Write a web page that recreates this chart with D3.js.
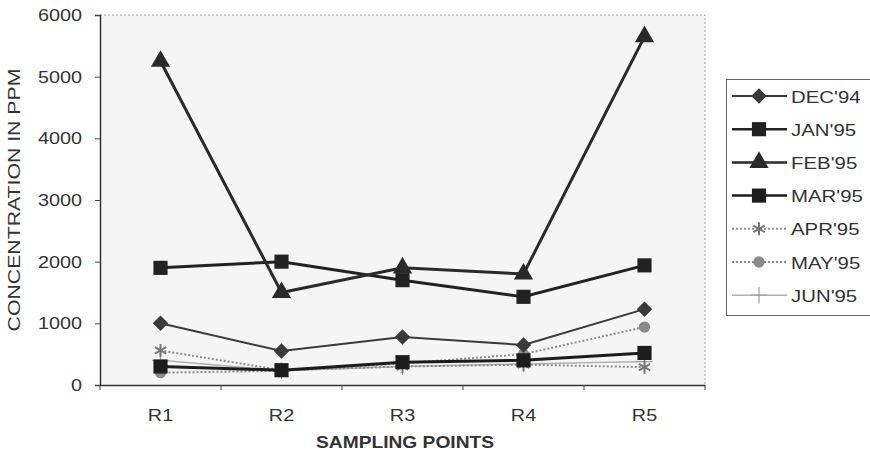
<!DOCTYPE html>
<html>
<head>
<meta charset="utf-8">
<script src="https://cdn.jsdelivr.net/npm/d3@7"></script>
<style>
  html, body { margin: 0; padding: 0; background: #ffffff; }
  svg { display: block; font-family: "Liberation Sans", Arial, sans-serif; }
</style>
</head>
<body>
<svg id="chart" width="870" height="459"></svg>
<script>
// ---- data ----
const categories = ["R1", "R2", "R3", "R4", "R5"];
const seriesNames = ["DEC'94", "JAN'95", "FEB'95", "MAR'95", "APR'95", "MAY'95", "JUN'95"];
const dec94 = [1000, 550, 780, 650, 1230];
const jan95 = [1900, 2000, 1700, 1430, 1940];
const feb95 = [5250, 1500, 1900, 1800, 5650];
const mar95 = [300, 240, 370, 400, 520];
const apr95 = [560, 240, 300, 330, 290];
const may95 = [200, 230, 350, 500, 940];
const jun95 = [400, 230, 300, 340, 380];
const yTicks = [0, 1000, 2000, 3000, 4000, 5000, 6000];
const yTitle = "CONCENTRATION IN PPM";
const xTitle = "SAMPLING POINTS";

const seriesValues = [dec94, jan95, feb95, mar95, apr95, may95, jun95];

// ---- styles ----
const styles = [
  { color: "#3a3a3a", width: 2,   dash: null,  marker: "diamond",  size: 120, mcolor: "#3a3a3a" },
  { color: "#222222", width: 3,   dash: null,  marker: "square",   size: 200, mcolor: "#222222" },
  { color: "#2a2a2a", width: 3,   dash: null,  marker: "triangle", size: 160, mcolor: "#2a2a2a" },
  { color: "#1c1c1c", width: 3,   dash: null,  marker: "square",   size: 200, mcolor: "#1c1c1c" },
  { color: "#8a8a8a", width: 2,   dash: "2,2", marker: "asterisk", size: 120, mcolor: "#777777" },
  { color: "#8c8c8c", width: 2,   dash: "2,2", marker: "circle",   size: 100, mcolor: "#8a8a8a" },
  { color: "#b0b0b0", width: 1.5, dash: null,  marker: "plus",     size: 90,  mcolor: "#a0a0a0" }
];

const svg = d3.select("#chart");
const margin = { left: 100, top: 15, right: 705, bottom: 385 };

const x = d3.scaleBand().domain(categories).range([margin.left, margin.right]);
const y = d3.scaleLinear().domain([0, 6000]).range([margin.bottom, margin.top]);
const cx = d => x(d) + x.bandwidth() / 2;

// plot area background
svg.append("rect")
  .attr("x", margin.left).attr("y", margin.top)
  .attr("width", margin.right - margin.left)
  .attr("height", margin.bottom - margin.top)
  .attr("fill", "#f5f5f5");

// top/right dotted border
svg.append("path")
  .attr("d", `M${margin.left},${margin.top}H${margin.right}V${margin.bottom}`)
  .attr("fill", "none").attr("stroke", "#999").attr("stroke-width", 1)
  .attr("stroke-dasharray", "2,2");

// helper for stretched text
function stext(g, tx, ty, str, opts) {
  const t = g.append("text")
    .attr("transform", `translate(${tx},${ty})${opts.rotate ? " rotate(" + opts.rotate + ")" : ""} scale(${opts.sx || 1.2},1)`)
    .attr("text-anchor", opts.anchor || "middle")
    .attr("font-size", opts.size || 16)
    .attr("font-weight", opts.weight || "normal")
    .attr("fill", opts.fill || "#333")
    .text(str);
  return t;
}

// y axis
const yAxis = svg.append("g").attr("transform", `translate(${margin.left},0)`)
  .call(d3.axisLeft(y).tickValues(yTicks).tickSize(5).tickFormat(""));
yAxis.select(".domain").attr("stroke", "#333").attr("stroke-width", 1.5);
yAxis.selectAll(".tick line").attr("stroke", "#444");
yTicks.forEach(v => {
  stext(svg, 82, y(v) + 6, String(v), { anchor: "end", size: 16.5 });
});

// x axis
const xBounds = categories.map(c => x(c)).concat([margin.right]);
const xAxis = svg.append("g").attr("transform", `translate(0,${margin.bottom})`)
  .call(d3.axisBottom(x).tickSize(0).tickFormat(""));
xAxis.select(".domain").attr("stroke", "#333").attr("stroke-width", 1.5);
xAxis.selectAll(".tick").remove();
xAxis.selectAll(".bt").data(xBounds).enter().append("line")
  .attr("x1", d => d).attr("x2", d => d).attr("y1", 0).attr("y2", 5)
  .attr("stroke", "#444");
categories.forEach(c => {
  stext(svg, cx(c), 421, c, { anchor: "middle", size: 16.5 });
});

// titles
stext(svg, 405, 448, xTitle, { anchor: "middle", size: 16, weight: "bold", fill: "#333" });
stext(svg, 20, 200, yTitle, { anchor: "middle", size: 17, rotate: -90, sx: 1.25, fill: "#333" });

// symbols
function symbolPath(kind, size) {
  const map = {
    diamond: d3.symbolSquare,
    square: d3.symbolSquare,
    triangle: d3.symbolTriangle,
    asterisk: d3.symbolAsterisk,
    circle: d3.symbolCircle,
    plus: d3.symbolPlus
  };
  return d3.symbol().type(map[kind]).size(size)();
}
function drawMarker(g, st, px, py) {
  const isStroke = st.marker === "asterisk" || st.marker === "plus";
  const p = g.append("path")
    .attr("d", symbolPath(st.marker, st.size))
    .attr("transform", `translate(${px},${py})${st.marker === "diamond" ? " rotate(45)" : ""}`);
  if (isStroke) {
    p.attr("fill", "none").attr("stroke", st.mcolor).attr("stroke-width", st.marker === "plus" ? 1.2 : 2);
  } else {
    p.attr("fill", st.mcolor).attr("stroke", "none");
  }
}

const line = d3.line().x((d, i) => cx(categories[i])).y(d => y(d));
const drawOrder = [6, 5, 4, 3, 0, 1, 2];
drawOrder.forEach(si => {
  const st = styles[si];
  const g = svg.append("g");
  g.append("path").datum(seriesValues[si])
    .attr("d", line).attr("fill", "none")
    .attr("stroke", st.color).attr("stroke-width", st.width)
    .attr("stroke-dasharray", st.dash);
  seriesValues[si].forEach((v, i) => drawMarker(g, st, cx(categories[i]), y(v)));
});

// legend
const lg = svg.append("g");
lg.append("rect").attr("x", 726.5).attr("y", 79.5).attr("width", 160).attr("height", 236)
  .attr("fill", "#ffffff").attr("stroke", "#666").attr("stroke-width", 1);
seriesNames.forEach((name, i) => {
  const st = styles[i];
  const ly = 96 + i * 33.2;
  lg.append("line").attr("x1", 732).attr("x2", 787).attr("y1", ly).attr("y2", ly)
    .attr("stroke", st.color).attr("stroke-width", st.width === 3 ? 2.5 : st.width)
    .attr("stroke-dasharray", st.dash);
  drawMarker(lg, st, 759, ly);
  stext(lg, 791, ly + 6.5, name, { anchor: "start", size: 17, sx: 1.2 });
});
</script>
</body>
</html>
